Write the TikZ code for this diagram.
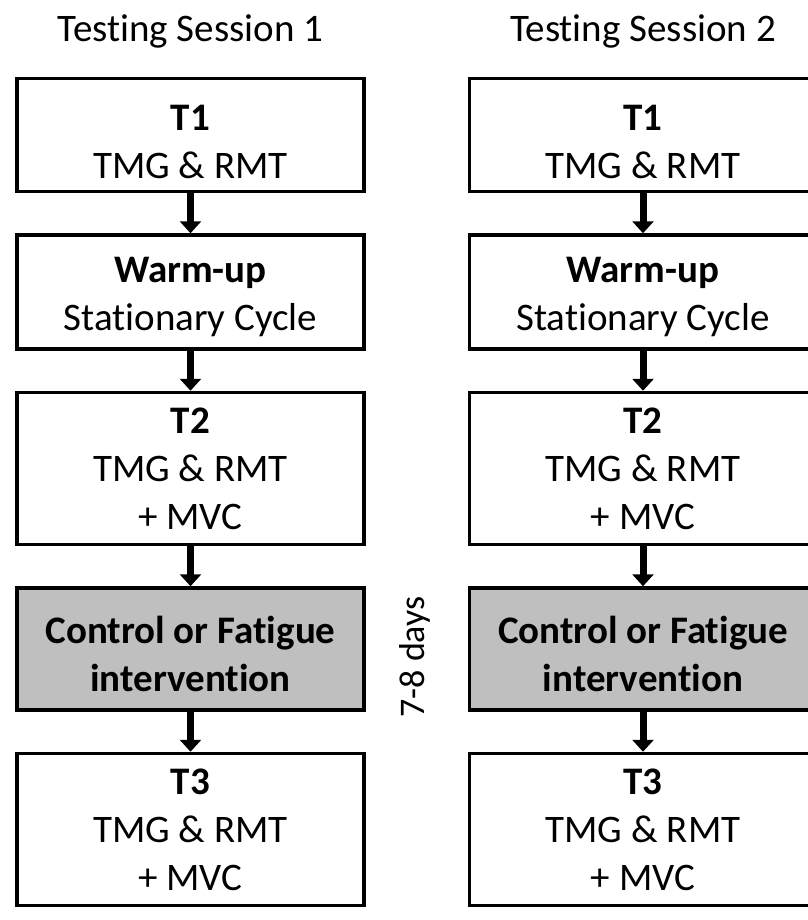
\documentclass[tikz,border=0pt]{standalone}
\usepackage{fontspec}
\setmainfont[Ligatures=NoCommon]{Carlito}
\usetikzlibrary{arrows.meta, positioning}
\definecolor{stepgray}{RGB}{191,191,191}

\begin{document}
\begin{tikzpicture}[
        x=1pt, y=1pt,
        node distance = 40pt,
        box/.style = {draw, rectangle, minimum width=347pt, align=center, inner sep=0pt, line width=3.5pt, font=\fontsize{39}{48}\selectfont},
        test/.style = {box, fill=white},
        task/.style = {box, fill=stepgray},
        title/.style = {font=\fontsize{39}{48}\selectfont},
        arrow/.style = {draw=black, line width=7pt, -{Triangle[width=21pt, length=12pt]}}
    ]
        \useasboundingbox (0,0) rectangle (807,-920);

        % Titles
        \node (title1) [title] at (190.5,-31) {Testing Session 1};
        \node (title2) [title] at (643,-31) {Testing Session 2};

        % Session 1
        \node (t1a) [test, minimum height=113pt, text height=88pt] at (190.5,-135) {\textbf{T1}\\TMG \& RMT};
        \node (wua) [test, minimum height=114pt, text height=84pt, below=of t1a] {\textbf{Warm-up}\\Stationary Cycle};
        \node (t2a) [test, minimum height=152pt, below=of wua] {\textbf{T2}\\TMG \& RMT\\+ MVC};
        \node (cfa) [task, minimum height=122pt, text height=86pt, below=of t2a] {\textbf{Control or Fatigue}\\\textbf{intervention}};
        \node (t3a) [test, minimum height=152pt, below=of cfa] {\textbf{T3}\\TMG \& RMT\\+ MVC};

        % Session 2
        \node (t1b) [test, minimum height=113pt, text height=88pt] at (643,-135) {\textbf{T1}\\TMG \& RMT};
        \node (wub) [test, minimum height=114pt, text height=84pt, below=of t1b] {\textbf{Warm-up}\\Stationary Cycle};
        \node (t2b) [test, minimum height=152pt, below=of wub] {\textbf{T2}\\TMG \& RMT\\+ MVC};
        \node (cfb) [task, minimum height=122pt, text height=86pt, below=of t2b] {\textbf{Control or Fatigue}\\\textbf{intervention}};
        \node (t3b) [test, minimum height=152pt, below=of cfb] {\textbf{T3}\\TMG \& RMT\\+ MVC};

        % Gap between sessions
        \node (gap) [font=\fontsize{36}{44}\selectfont, rotate=90] at (415,-657) {7-8 days};

        % Arrows
        \draw [arrow] (t1a.south) -- (wua.north);
        \draw [arrow] (wua.south) -- (t2a.north);
        \draw [arrow] (t2a.south) -- (cfa.north);
        \draw [arrow] (cfa.south) -- (t3a.north);

        \draw [arrow] (t1b.south) -- (wub.north);
        \draw [arrow] (wub.south) -- (t2b.north);
        \draw [arrow] (t2b.south) -- (cfb.north);
        \draw [arrow] (cfb.south) -- (t3b.north);

    \end{tikzpicture}
\end{document}
